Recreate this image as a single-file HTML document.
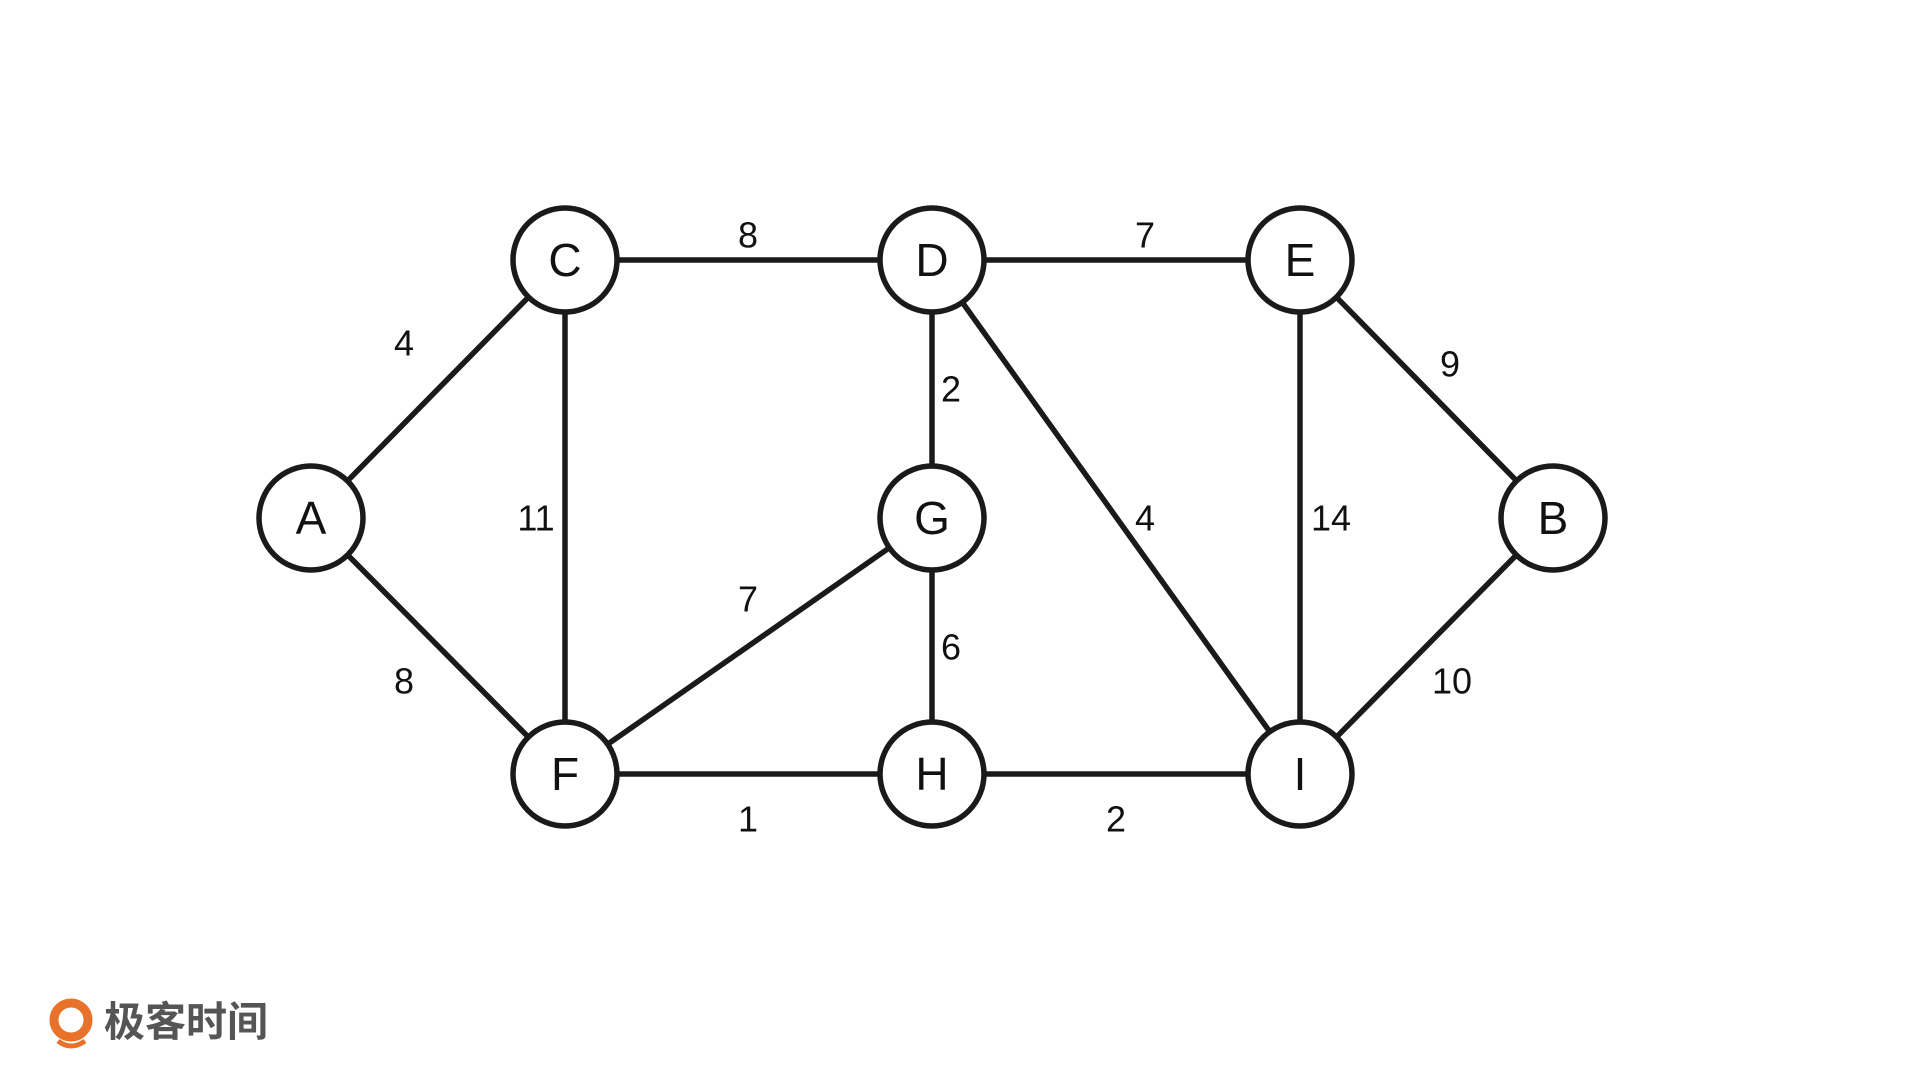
<!DOCTYPE html>
<html><head><meta charset="utf-8"><style>
html,body{margin:0;padding:0;background:#fff;}
svg{display:block}
</style></head><body>
<svg width="1920" height="1080" viewBox="0 0 1920 1080" xmlns="http://www.w3.org/2000/svg">
<g stroke="#1a1a1a" stroke-width="5.5" stroke-linecap="round" fill="none">
<line x1="311" y1="518" x2="565" y2="260"/>
<line x1="311" y1="518" x2="565" y2="774"/>
<line x1="565" y1="260" x2="932" y2="260"/>
<line x1="932" y1="260" x2="1300" y2="260"/>
<line x1="565" y1="260" x2="565" y2="774"/>
<line x1="932" y1="260" x2="932" y2="518"/>
<line x1="932" y1="260" x2="1300" y2="774"/>
<line x1="1300" y1="260" x2="1300" y2="774"/>
<line x1="1300" y1="260" x2="1553" y2="518"/>
<line x1="1553" y1="518" x2="1300" y2="774"/>
<line x1="932" y1="518" x2="565" y2="774"/>
<line x1="932" y1="518" x2="932" y2="774"/>
<line x1="565" y1="774" x2="932" y2="774"/>
<line x1="932" y1="774" x2="1300" y2="774"/>
</g>
<g stroke="#1a1a1a" stroke-width="5.5" fill="#fff">
<circle cx="311" cy="518" r="52"/>
<circle cx="565" cy="260" r="52"/>
<circle cx="932" cy="260" r="52"/>
<circle cx="1300" cy="260" r="52"/>
<circle cx="1553" cy="518" r="52"/>
<circle cx="932" cy="518" r="52"/>
<circle cx="565" cy="774" r="52"/>
<circle cx="932" cy="774" r="52"/>
<circle cx="1300" cy="774" r="52"/>
</g>
<g font-family="Liberation Sans, sans-serif" font-size="46" fill="#111" text-anchor="middle" dominant-baseline="central">
<text x="311" y="518">A</text><text x="565" y="260">C</text><text x="932" y="260">D</text>
<text x="1300" y="260">E</text><text x="1553" y="518">B</text><text x="932" y="518">G</text>
<text x="565" y="774">F</text><text x="932" y="774">H</text><text x="1300" y="774">I</text>
</g>
<g font-family="Liberation Sans, sans-serif" font-size="36" fill="#111" text-anchor="middle" dominant-baseline="central">
<text x="748" y="235">8</text><text x="1145" y="235">7</text><text x="404" y="343">4</text>
<text x="1450" y="364">9</text><text x="951" y="389">2</text><text x="536" y="518">11</text>
<text x="1145" y="518">4</text><text x="1331" y="518">14</text><text x="748" y="599">7</text>
<text x="951" y="647">6</text><text x="404" y="681">8</text><text x="1452" y="681">10</text>
<text x="748" y="819">1</text><text x="1116" y="819">2</text>
</g>
<g>
<circle cx="71" cy="1020" r="17" fill="none" stroke="#e8722a" stroke-width="9"/>
<path d="M58 1041 Q71 1051 85 1041" stroke="#e8722a" stroke-width="5" fill="none"/>
<text x="104" y="1036" font-family="Liberation Sans, Noto Sans CJK SC, sans-serif" font-size="41" font-weight="bold" fill="#555">极客时间</text>
</g>
</svg>
</body></html>
